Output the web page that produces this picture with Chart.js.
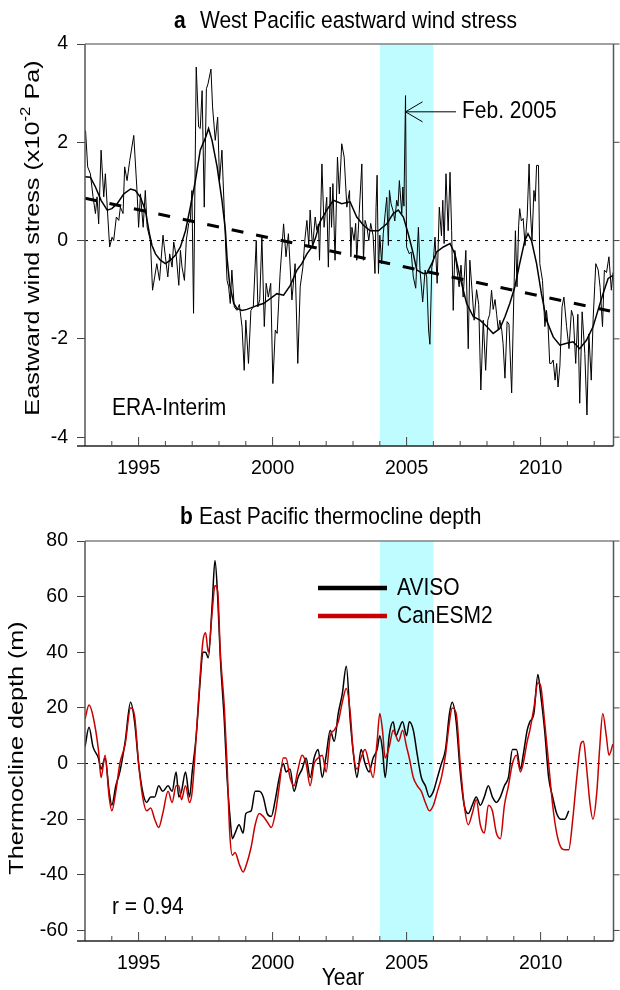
<!DOCTYPE html>
<html>
<head>
<meta charset="utf-8">
<script src="https://cdn.jsdelivr.net/npm/chart.js@4.4.0/dist/chart.umd.min.js"></script>
<style>
  html, body { margin: 0; padding: 0; background: #fff; }
  #wrap { position: relative; width: 620px; height: 990px; }
  .panel { position: absolute; left: 0; width: 620px; height: 495px; }
</style>
</head>
<body>
<div id="wrap">
  <div class="panel" style="top:0"><canvas id="windChart" width="620" height="495"></canvas></div>
  <div class="panel" style="top:495px"><canvas id="depthChart" width="620" height="495"></canvas></div>
</div>
<script>
// ---- data ----
const yearTicks = [1995, 2000, 2005, 2010];
const windTicks = [-4, -2, 0, 2, 4];
const depthTicks = [-60, -40, -20, 0, 20, 40, 60, 80];
const shadeFrom = 2004;
const shadeTo = 2006;

// (a) monthly eastward wind stress, ERA-Interim (x10^-2 Pa)
const windYears = [
  1993.02, 1993.10, 1993.20, 1993.30, 1993.39, 1993.45, 1993.51, 1993.60, 1993.70, 1993.76, 1993.83, 1993.92,
  1994.01, 1994.07, 1994.17, 1994.26, 1994.32, 1994.42, 1994.48, 1994.57, 1994.67, 1994.82, 1994.94,
  1995.00, 1995.07, 1995.17, 1995.25, 1995.32, 1995.44, 1995.52, 1995.60, 1995.68, 1995.78, 1995.91,
  1996.00, 1996.09, 1996.16, 1996.25, 1996.31, 1996.41, 1996.50, 1996.56, 1996.62, 1996.71, 1996.78, 1996.87, 1996.93, 1996.99,
  1997.05, 1997.15, 1997.24, 1997.30, 1997.37, 1997.45, 1997.53, 1997.59, 1997.70, 1997.76, 1997.86, 1997.95,
  1998.02, 1998.11, 1998.20, 1998.30, 1998.36, 1998.42, 1998.48, 1998.57, 1998.67, 1998.76, 1998.86, 1998.94,
  1999.00, 1999.10, 1999.19, 1999.28, 1999.39, 1999.45, 1999.52, 1999.60, 1999.69, 1999.76, 1999.84, 1999.93,
  2000.01, 2000.10, 2000.17, 2000.28, 2000.41, 2000.50, 2000.59, 2000.72, 2000.84, 2000.94,
  2001.03, 2001.13, 2001.21, 2001.28, 2001.35, 2001.40, 2001.49, 2001.59, 2001.65, 2001.71, 2001.75, 2001.84, 2001.92,
  2002.02, 2002.08, 2002.15, 2002.20, 2002.25, 2002.33, 2002.42, 2002.49, 2002.58, 2002.67, 2002.77, 2002.87, 2002.92, 2002.96,
  2003.04, 2003.10, 2003.14, 2003.23, 2003.33, 2003.39, 2003.45, 2003.52, 2003.59, 2003.66, 2003.75, 2003.82, 2003.86, 2003.90, 2003.95,
  2004.00, 2004.07, 2004.13, 2004.20, 2004.26, 2004.32, 2004.36, 2004.42, 2004.50, 2004.56, 2004.63, 2004.68, 2004.73, 2004.82, 2004.86, 2004.90, 2004.96,
  2005.00, 2005.10, 2005.17, 2005.25, 2005.34, 2005.44, 2005.50, 2005.60, 2005.69, 2005.75, 2005.82, 2005.87, 2005.94,
  2006.00, 2006.06, 2006.14, 2006.22, 2006.30, 2006.35, 2006.40, 2006.47, 2006.55, 2006.62, 2006.68, 2006.74, 2006.80, 2006.88, 2006.96,
  2007.03, 2007.11, 2007.21, 2007.30, 2007.36, 2007.44, 2007.52, 2007.61, 2007.69, 2007.77, 2007.86, 2007.95,
  2008.03, 2008.10, 2008.17, 2008.23, 2008.30, 2008.36, 2008.42, 2008.48, 2008.55, 2008.60, 2008.67, 2008.75, 2008.82, 2008.92,
  2009.00, 2009.06, 2009.12, 2009.18, 2009.22, 2009.28, 2009.35, 2009.42, 2009.50, 2009.57, 2009.62, 2009.68, 2009.75, 2009.80, 2009.85, 2009.92, 2009.97,
  2010.07, 2010.16, 2010.22, 2010.28, 2010.34, 2010.40, 2010.47, 2010.54, 2010.60, 2010.65, 2010.72, 2010.80, 2010.87, 2010.97,
  2011.06, 2011.15, 2011.22, 2011.31, 2011.39, 2011.46, 2011.55, 2011.65, 2011.73, 2011.80, 2011.89, 2011.96,
  2012.06, 2012.15, 2012.22, 2012.31, 2012.38, 2012.46, 2012.55, 2012.64, 2012.70
];
const windValues = [
  2.24, 1.50, 1.36, 0.89, 0.55, 0.89, 0.34, 1.84, 0.89, 1.36, 0.68, -0.13,
  0.07, 0.00, 0.48, 0.41, 0.68, 0.55, 1.50, 1.22, 1.63, 2.14, 1.02,
  0.27, 0.95, 0.27, 1.02, 0.27, 0.00, -1.01, -0.74, -0.47, -0.81, 0.11,
  -0.33, -0.74, -0.27, -0.54, -0.03, -0.33, -0.91, -0.20, -0.54, -0.81, 0.01, 0.35, 0.41, 1.02,
  -1.48, 3.53, 2.31, 2.28, 3.05, 0.68, 3.09, 3.19, 3.49, 2.72, 2.04, 2.51,
  1.22, 1.84, 0.55, -0.81, -0.94, -1.28, -0.60, -1.35, -1.42, -1.30, -1.76, -2.64,
  -1.62, -2.50, -1.42, -1.35, 0.00, -1.35, -1.20, 0.07, -1.75, -0.87, -1.15, -0.87,
  -2.91, -1.82, -1.89, -0.67, 0.34, -0.33, 0.14, -1.21, -0.47, -2.50,
  -0.94, -0.54, 0.05, 0.41, -0.10, 0.62, -0.13, 0.48, 0.21, 0.34, -0.40, 1.56, 0.27,
  0.88, -0.54, 1.09, 0.27, 1.16, -0.40, 1.70, 0.95, 1.97, 1.70, 0.68, 1.02, -0.33, 0.27,
  0.00, 0.35, -0.40, 0.55, 1.56, -0.40, 0.41, 0.27, 0.00, 0.35, 0.10, -0.67, 0.68, 1.33, -0.67,
  0.11, -0.47, 0.14, 0.55, 0.88, -0.10, 1.02, 0.75, 0.60, 0.40, 0.82, 0.70, 1.22, 0.55, 1.09, 0.70, 2.95,
  -0.13, -0.27, -0.23, -0.74, -0.97, 0.27, -0.60, -1.25, -0.60, -0.74, -1.82, -2.11, -0.54,
  -0.40, 0.07, -0.87, 0.68, 0.10, 0.82, -0.06, 1.36, 0.20, 1.39, 0.20, -1.42, -0.20, -0.60, -0.94,
  -0.50, -1.15, -0.20, -2.20, -0.40, -1.00, -1.62, -1.00, -1.30, -3.04, -1.62, -2.64,
  -1.62, -1.50, -1.01, -1.40, -1.20, -1.50, -1.82, -1.62, -1.82, -2.10, -2.80, -1.65, -1.70, -3.10,
  -1.15, 0.20, -0.94, 0.30, 0.65, 0.40, 0.45, -0.10, 0.50, 1.56, 0.60, 0.00, 1.02, 0.80, 1.53, 1.53, -0.47,
  -0.81, -1.75, -1.42, -1.75, -2.50, -2.50, -2.43, -2.84, -2.50, -2.98, -2.55, -1.35, -1.15, -1.75,
  -2.20, -1.42, -1.55, -2.50, -1.50, -3.31, -1.45, -2.30, -3.55, -1.90, -2.84, -1.60,
  -0.47, -0.60, -0.95, -1.75, -0.60, -0.65, -0.33, -1.01, -0.65
];

// (a) smoothed wind stress
const smoothYears = [
  1993.00, 1993.20, 1993.39, 1993.60, 1993.83, 1994.00, 1994.20, 1994.45, 1994.70, 1994.88,
  1995.07, 1995.25, 1995.40, 1995.50, 1995.63, 1995.81, 1996.00, 1996.19, 1996.37, 1996.56, 1996.75, 1996.93,
  1997.12, 1997.30, 1997.50, 1997.61, 1997.74, 1997.93, 1998.11, 1998.24, 1998.30, 1998.40, 1998.55, 1998.67, 1998.86,
  1999.04, 1999.29, 1999.47, 1999.66, 1999.91, 2000.16, 2000.41, 2000.66, 2000.91,
  2001.09, 2001.28, 2001.47, 2001.60, 2001.77, 2002.02, 2002.27, 2002.58, 2002.89,
  2003.14, 2003.39, 2003.64, 2003.95, 2004.26, 2004.50, 2004.69, 2004.88,
  2005.06, 2005.25, 2005.38, 2005.62, 2005.75, 2005.94, 2006.12, 2006.37, 2006.62, 2006.80, 2006.99,
  2007.24, 2007.49, 2007.74, 2007.99, 2008.23, 2008.48, 2008.67, 2008.85,
  2009.04, 2009.22, 2009.41, 2009.53, 2009.66, 2009.85, 2010.03, 2010.22, 2010.47, 2010.72, 2010.97,
  2011.21, 2011.46, 2011.71, 2011.96, 2012.14, 2012.33, 2012.52, 2012.70
];
const smoothValues = [
  1.30, 1.29, 1.09, 0.82, 0.62, 0.65, 0.75, 0.95, 1.05, 1.02,
  0.88, 0.62, 0.15, -0.10, -0.27, -0.40, -0.47, -0.40, -0.30, -0.13, 0.20, 0.68,
  1.22, 1.84, 2.10, 2.28, 2.04, 1.50, 0.82, 0.20, -0.35, -0.90, -1.28, -1.38, -1.42,
  -1.40, -1.35, -1.31, -1.28, -1.18, -1.08, -1.11, -0.91, -0.60,
  -0.47, -0.27, -0.13, 0.05, 0.38, 0.62, 0.82, 0.75, 0.79,
  0.48, 0.31, 0.20, 0.20, 0.34, 0.55, 0.62, 0.48,
  0.14, -0.27, -0.60, -0.67, -0.67, -0.47, -0.23, -0.13, -0.06, -0.27, -0.74,
  -1.28, -1.55, -1.62, -1.75, -1.89, -1.79, -1.55, -1.28,
  -0.94, -0.47, 0.00, 0.14, 0.00, -0.47, -1.08, -1.62, -1.96, -2.13, -2.09,
  -2.06, -2.20, -2.03, -1.75, -1.42, -1.08, -0.77, -0.71
];

// (a) linear trend end points
const trendYears = [1993.0, 2012.72];
const trendValues = [0.86, -1.45];

// (b) east Pacific thermocline depth anomaly (m)
const avisoYears = [
  1993.00, 1993.15, 1993.30, 1993.50, 1993.60, 1993.75, 1993.90, 1994.00, 1994.15, 1994.30, 1994.50, 1994.70, 1994.85,
  1995.00, 1995.15, 1995.30, 1995.45, 1995.60, 1995.75, 1995.90, 1996.10, 1996.25, 1996.40, 1996.50, 1996.60, 1996.75, 1996.90,
  1997.00, 1997.15, 1997.30, 1997.40, 1997.50, 1997.60, 1997.75, 1997.85, 1997.95, 1998.05, 1998.20, 1998.30, 1998.40, 1998.50, 1998.60, 1998.75, 1998.90,
  1999.00, 1999.20, 1999.35, 1999.50, 1999.65, 1999.80, 1999.95, 2000.10, 2000.25, 2000.40, 2000.50, 2000.65, 2000.80, 2000.95,
  2001.10, 2001.25, 2001.40, 2001.55, 2001.70, 2001.85, 2002.00, 2002.15, 2002.30, 2002.45, 2002.60, 2002.75, 2002.90,
  2003.00, 2003.15, 2003.30, 2003.45, 2003.60, 2003.75, 2003.90, 2004.00, 2004.10, 2004.20, 2004.35, 2004.50, 2004.60, 2004.70, 2004.85,
  2005.00, 2005.10, 2005.25, 2005.40, 2005.55, 2005.70, 2005.85, 2006.00, 2006.15, 2006.30, 2006.45, 2006.60, 2006.70, 2006.85,
  2007.00, 2007.15, 2007.30, 2007.45, 2007.60, 2007.75, 2007.90, 2008.05, 2008.20, 2008.35, 2008.50, 2008.65, 2008.80, 2008.95,
  2009.10, 2009.25, 2009.35, 2009.50, 2009.60, 2009.75, 2009.90, 2010.00, 2010.15, 2010.30, 2010.45, 2010.60, 2010.75, 2010.90, 2011.05
];
const avisoValues = [
  6, 13, 6, 2, -2, 2, -10, -15, -8, -3, 8, 22, 15,
  0, -10, -14, -12, -12, -8, -10, -8, -10, -3, -12, -10, -3, -12,
  -3, 10, 30, 40, 40, 38, 58, 73, 60, 38, 15, -5, -18, -27, -25, -22, -25,
  -18, -17, -10, -10, -12, -18, -19, -13, -5, 0, -3, -2, -10, -5,
  -2, 2, -5, 2, 5, -5, 3, 12, 8, 18, 25, 35, 15,
  5, -5, 5, 0, -3, 2, 5, 10, 5, -5, 10, 15, 10, 12, 15,
  10, 15, 12, 3, -5, -8, -12, -10, -5, 0, 5, 18, 22, 15,
  -3, -15, -18, -15, -12, -15, -12, -8, -12, -14, -12, -8, -5, 5,
  5, -2, 3, 12, 15, 18, 32, 25, 12, -5, -12, -18, -20, -20, -17
];
const canesmYears = [
  1993.00, 1993.15, 1993.30, 1993.50, 1993.60, 1993.75, 1993.90, 1994.00, 1994.15, 1994.30, 1994.50, 1994.70, 1994.85,
  1995.00, 1995.15, 1995.30, 1995.45, 1995.60, 1995.75, 1995.90, 1996.10, 1996.25, 1996.40, 1996.50, 1996.60, 1996.75, 1996.90,
  1997.00, 1997.15, 1997.30, 1997.40, 1997.50, 1997.60, 1997.75, 1997.85, 1997.95, 1998.05, 1998.20, 1998.30, 1998.40, 1998.50, 1998.60, 1998.75, 1998.90,
  1999.00, 1999.20, 1999.35, 1999.50, 1999.65, 1999.80, 1999.95, 2000.10, 2000.25, 2000.40, 2000.50, 2000.65, 2000.80, 2000.95,
  2001.10, 2001.25, 2001.40, 2001.55, 2001.70, 2001.85, 2002.00, 2002.15, 2002.30, 2002.45, 2002.60, 2002.75, 2002.90,
  2003.00, 2003.15, 2003.30, 2003.45, 2003.60, 2003.75, 2003.90, 2004.00, 2004.10, 2004.20, 2004.35, 2004.50, 2004.60, 2004.70, 2004.85,
  2005.00, 2005.10, 2005.25, 2005.40, 2005.55, 2005.70, 2005.85, 2006.00, 2006.15, 2006.30, 2006.45, 2006.60, 2006.70, 2006.85,
  2007.00, 2007.15, 2007.30, 2007.45, 2007.60, 2007.75, 2007.90, 2008.05, 2008.20, 2008.35, 2008.50, 2008.65, 2008.80, 2008.95,
  2009.10, 2009.25, 2009.35, 2009.50, 2009.60, 2009.75, 2009.90, 2010.00, 2010.15, 2010.30, 2010.45, 2010.60, 2010.75, 2010.90,
  2011.05, 2011.20, 2011.35, 2011.50, 2011.60, 2011.70, 2011.85, 2011.95, 2012.10, 2012.20, 2012.32, 2012.45, 2012.55, 2012.70
];
const canesmValues = [
  16, 21, 17, 5, -5, 3, -12, -17, -10, 0, 7, 20, 17,
  0, -12, -17, -16, -20, -23, -18, -10, -14, -8, -8, -13, -8, -14,
  -10, 10, 32, 44, 47, 40, 55, 64, 62, 40, 20, 0, -25, -33, -32, -36, -39,
  -37, -30, -22, -18, -19, -21, -23, -18, -8, 2, 2, -5, -8, -2,
  3, 0, -8, 0, 2, 3, -3, 10, 12, 15, 22, 27, 18,
  5, -2, 2, 5, 0, -5, 8, 18, 12, 2, 6, 12, 10, 8, 12,
  6, 2, -5, -8, -10, -14, -17, -15, -10, -5, 3, 15, 20, 18,
  0, -15, -22, -18, -13, -22, -25, -15, -17, -25, -27, -15, -8, 0,
  3, -3, 0, 8, 12, 20, 29, 28, 15, 0, -15, -25, -30, -31,
  -31, -20, -5, 7, 8, 0, -15, -20, -10, 5, 18, 10, 3, 7
];

// ---- helpers ----
const FONT = '"Liberation Sans", Arial, Helvetica, sans-serif';
const X_MIN = 1993;
const X_MAX = 2012.72;
const SHADE = 'rgb(191, 252, 255)';
const RED = '#c80000';

function toPoints(xs, ys) {
  return xs.map((x, i) => ({ x: x, y: ys[i] }));
}

// text is a bit taller than wide in the original figure
function stretchText(ctx, str, x, y, weight, size, align) {
  ctx.save();
  ctx.translate(x, y);
  ctx.scale(1, 1.15);
  ctx.font = weight + ' ' + size + 'px ' + FONT;
  ctx.textAlign = align;
  ctx.textBaseline = 'middle';
  ctx.fillStyle = '#000';
  ctx.fillText(str, 0, 0);
  ctx.restore();
}

// rotated axis title, pieces = [[text, size, rise], ...]
function verticalTitle(ctx, pieces, cx, cy) {
  ctx.save();
  ctx.translate(cx, cy);
  ctx.rotate(-Math.PI / 2);
  ctx.scale(1.2, 1);
  ctx.fillStyle = '#000';
  ctx.textBaseline = 'middle';
  ctx.textAlign = 'left';
  let total = 0;
  pieces.forEach(p => { ctx.font = p[1] + 'px ' + FONT; total += ctx.measureText(p[0]).width; });
  let pos = -total / 2;
  pieces.forEach(p => {
    ctx.font = p[1] + 'px ' + FONT;
    ctx.fillText(p[0], pos, -p[2]);
    pos += ctx.measureText(p[0]).width;
  });
  ctx.restore();
}

function line(ctx, x0, y0, x1, y1) {
  ctx.beginPath();
  ctx.moveTo(x0, y0);
  ctx.lineTo(x1, y1);
  ctx.stroke();
}

// shading, frame, inward year ticks and the texts
function panelPlugin(drawTexts) {
  return {
    id: 'panel',
    beforeDatasetsDraw(chart) {
      const { ctx, chartArea: a, scales: { x } } = chart;
      const x0 = x.getPixelForValue(shadeFrom);
      const x1 = x.getPixelForValue(shadeTo);
      ctx.save();
      ctx.fillStyle = SHADE;
      ctx.fillRect(x0, a.top, x1 - x0, a.bottom - a.top);
      ctx.restore();
    },
    afterDraw(chart) {
      const { ctx, chartArea: a, scales: { x, y } } = chart;
      ctx.save();
      ctx.lineWidth = 1.5;
      ctx.strokeStyle = '#808080';
      line(ctx, a.left, a.top, a.right, a.top);
      ctx.strokeStyle = '#555';
      line(ctx, a.right, a.top, a.right, a.bottom);
      line(ctx, a.left, a.top, a.left, a.bottom);
      ctx.strokeStyle = '#222';
      line(ctx, a.left - 8, a.bottom, a.right, a.bottom);
      ctx.lineWidth = 1;
      ctx.strokeStyle = '#444';
      y.ticks.forEach(t => {
        const py = y.getPixelForValue(t.value);
        line(ctx, a.right, py, a.right + 6, py);
      });
      for (let yr = 1994; yr <= 2012; yr++) {
        const px = x.getPixelForValue(yr);
        line(ctx, px, a.bottom, px, a.bottom - (yr % 5 === 0 ? 9 : 5));
      }
      ctx.restore();
      drawTexts(chart);
    }
  };
}

function baseOptions(yMin, yMax, yTicks, topPad) {
  return {
    responsive: false,
    devicePixelRatio: 1,
    animation: false,
    events: [],
    layout: { padding: { top: topPad, right: 6.5, left: 0, bottom: 0 } },
    plugins: { legend: { display: false }, tooltip: { enabled: false } },
    elements: { point: { radius: 0 }, line: { tension: 0 } },
    scales: {
      x: {
        type: 'linear', min: X_MIN, max: X_MAX,
        afterBuildTicks: s => { s.ticks = yearTicks.map(v => ({ value: v })); },
        afterFit: s => { s.height = 49; },
        grid: { display: false },
        border: { display: false },
        ticks: { color: '#000', padding: 3, maxRotation: 0, font: { family: FONT, size: 19.5 }, callback: v => String(v) }
      },
      y: {
        min: yMin, max: yMax,
        afterBuildTicks: s => { s.ticks = yTicks.map(v => ({ value: v })); },
        afterFit: s => { s.width = 85; },
        grid: { drawOnChartArea: false, drawTicks: true, tickLength: 8, color: '#444', lineWidth: 1 },
        border: { display: false },
        ticks: { color: '#000', padding: 9, font: { family: FONT, size: 19.5 }, callback: v => String(v) }
      }
    }
  };
}

function zeroLine() {
  return {
    data: [{ x: X_MIN, y: 0 }, { x: X_MAX, y: 0 }],
    borderColor: '#000', borderWidth: 1, borderDash: [3, 5]
  };
}

document.addEventListener('DOMContentLoaded', function () {
  // Panel a: wind stress
  const windCtx = document.getElementById('windChart');
  new Chart(windCtx, {
    type: 'line',
    data: {
      datasets: [
        { data: toPoints(trendYears, trendValues), borderColor: '#000', borderWidth: 3, borderDash: [12, 13] },
        { data: toPoints(smoothYears, smoothValues), borderColor: '#000', borderWidth: 1.5 },
        { data: toPoints(windYears, windValues), borderColor: '#000', borderWidth: 1 },
        zeroLine()
      ]
    },
    options: baseOptions(-4.18, 4, windTicks, 44),
    plugins: [panelPlugin(function (chart) {
      const { ctx, scales: { x, y } } = chart;
      stretchText(ctx, 'a', 174, 21, 'bold', 21, 'left');
      stretchText(ctx, 'West Pacific eastward wind stress', 200, 21, 'normal', 21, 'left');
      stretchText(ctx, 'ERA-Interim', 112, 408, 'normal', 21, 'left');
      // arrow to the Feb. 2005 spike
      const tipX = x.getPixelForValue(2004.96);
      const tipY = y.getPixelForValue(2.62);
      ctx.save();
      ctx.strokeStyle = '#000';
      ctx.lineWidth = 1;
      line(ctx, tipX, tipY, 456, tipY);
      line(ctx, tipX, tipY, tipX + 17, tipY - 10);
      line(ctx, tipX, tipY, tipX + 17, tipY + 10);
      ctx.restore();
      stretchText(ctx, 'Feb. 2005', 462, tipY, 'normal', 21, 'left');
      verticalTitle(ctx, [['Eastward wind stress (x10', 21, 0], ['-2', 14, 7], [' Pa)', 21, 0]], 33, 238);
    })]
  });

  // Panel b: thermocline depth
  const depthCtx = document.getElementById('depthChart');
  new Chart(depthCtx, {
    type: 'line',
    data: {
      datasets: [
        { data: toPoints(canesmYears, canesmValues), borderColor: RED, borderWidth: 1.5, cubicInterpolationMode: 'monotone' },
        { data: toPoints(avisoYears, avisoValues), borderColor: '#000', borderWidth: 1.5, cubicInterpolationMode: 'monotone' },
        zeroLine()
      ]
    },
    options: baseOptions(-63.8, 80, depthTicks, 46),
    plugins: [panelPlugin(function (chart) {
      const ctx = chart.ctx;
      stretchText(ctx, 'b', 180, 22, 'bold', 21, 'left');
      stretchText(ctx, 'East Pacific thermocline depth', 199, 22, 'normal', 21, 'left');
      // legend
      ctx.save();
      ctx.lineWidth = 4.5;
      ctx.strokeStyle = '#000';
      line(ctx, 318, 93, 387, 93);
      ctx.strokeStyle = RED;
      line(ctx, 318, 121, 387, 121);
      ctx.restore();
      stretchText(ctx, 'AVISO', 397, 93, 'normal', 21, 'left');
      stretchText(ctx, 'CanESM2', 397, 121, 'normal', 21, 'left');
      stretchText(ctx, 'r = 0.94', 112, 412, 'normal', 21, 'left');
      stretchText(ctx, 'Year', 343, 483, 'normal', 21, 'center');
      verticalTitle(ctx, [['Thermocline depth (m)', 21, 0]], 17, 253);
    })]
  });
});
</script>
</body>
</html>
